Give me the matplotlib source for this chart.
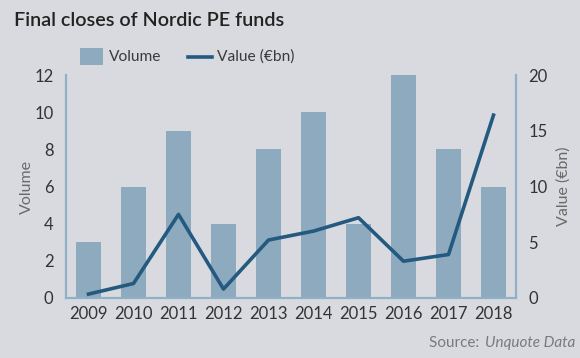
import matplotlib
matplotlib.use("Agg")
import matplotlib.pyplot as plt
from matplotlib.patches import Rectangle
from matplotlib.lines import Line2D

years = ["2009", "2010", "2011", "2012", "2013", "2014", "2015", "2016", "2017", "2018"]
volume = [3, 6, 9, 4, 8, 10, 4, 12, 8, 6]
value_bn = [0.35, 1.3, 7.5, 0.8, 5.2, 6.0, 7.2, 3.3, 3.9, 16.4]

plt.rcParams['font.family'] = ['Lato', 'DejaVu Sans']

bg = "#d9dadf"
bar_c = "#8eaabf"
line_c = "#245a80"
spine_c = "#8fb0c6"
tick_c = "#333333"
lab_c = "#6a6a6a"

W, H = 580, 358
fig = plt.figure(figsize=(5.8, 3.58), dpi=100, facecolor=bg)
ax = fig.add_axes([66/W, 1-298/H, 450/W, 223/H])
ax.set_facecolor(bg)
x = list(range(len(years)))
ax.bar(x, volume, width=0.57, color=bar_c, zorder=2)
ax.set_xlim(-0.5, len(years)-0.5)
ax.set_ylim(0, 12)
ax.set_yticks(range(0, 13, 2))
ax.set_xticks(x)
ax.set_xticklabels(years)
ax.tick_params(length=0, labelsize=12, colors=tick_c, pad=6)
ax.tick_params(axis='y', pad=9)
ax.set_ylabel("Volume", fontsize=11.5, color=lab_c, labelpad=0)

ax2 = ax.twinx()
ax2.plot(x, value_bn, color=line_c, lw=2.6, zorder=3)
ax2.set_ylim(0, 20)
ax2.set_yticks(range(0, 21, 5))
ax2.tick_params(length=0, labelsize=12, colors=tick_c, pad=9)
ax2.set_ylabel("Value (€bn)", fontsize=11.5, color=lab_c, labelpad=6)

for a in (ax, ax2):
    a.spines['top'].set_visible(False)
    for s in ('left', 'right', 'bottom'):
        a.spines[s].set_color(spine_c)
        a.spines[s].set_linewidth(1.5)

fig.text(14/W, 1-21/H, "Final closes of Nordic PE funds", fontsize=14.2,
         fontweight='semibold', color="#222222", va='center', ha='left')

# legend (figure-level, manual layout)
fig.patches.append(Rectangle((80/W, 1-65/H), 23/W, 17/H, transform=fig.transFigure,
                             facecolor=bar_c, edgecolor='none'))
fig.text(109/W, 1-57/H, "Volume", fontsize=11.2, color="#3a3a3a", va='center',
         ha='left')
fig.lines.append(Line2D([188/W, 212/W], [1-57/H, 1-57/H], transform=fig.transFigure,
                        color=line_c, lw=2.6))
fig.text(217/W, 1-57/H, "Value (€bn)", fontsize=11.2, color="#3a3a3a", va='center',
         ha='left')

t1 = fig.text(1-5/W, 1-343/H, "Unquote Data", fontsize=11, style='italic',
              color="#7a7a7a", ha='right', va='center')
fig.canvas.draw()
bb = t1.get_window_extent()
fig.text(bb.x0/W - 0.002, 1-343/H, "Source: ", fontsize=11, color="#7a7a7a",
         ha='right', va='center')

fig.savefig("out.png", dpi=100, facecolor=bg)
